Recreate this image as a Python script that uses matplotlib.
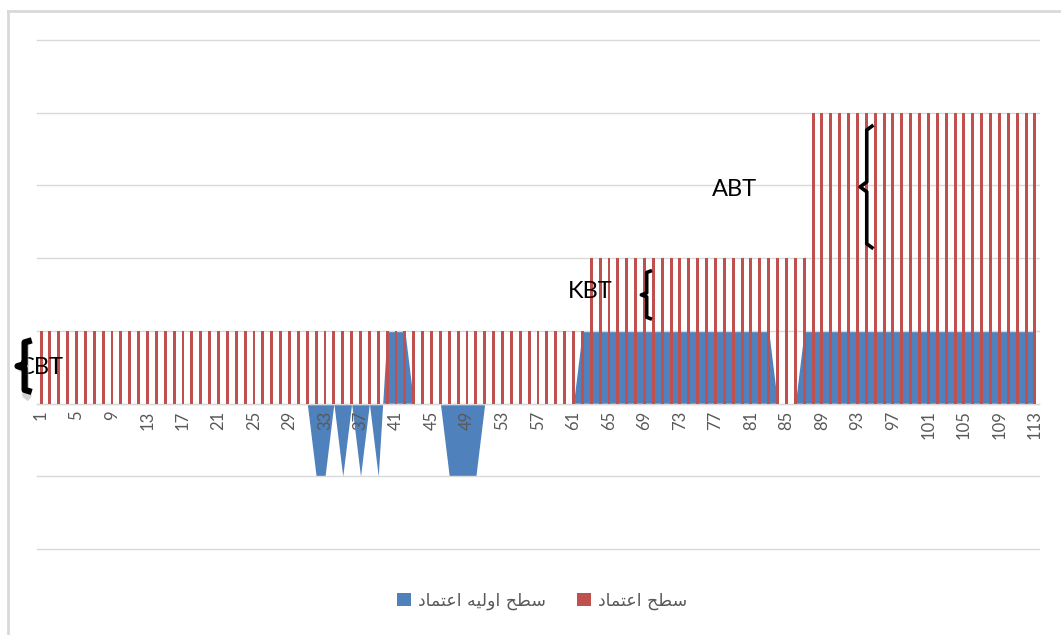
import matplotlib
matplotlib.use("Agg")
import matplotlib.pyplot as plt
from matplotlib.patches import Patch
from matplotlib.lines import Line2D

# categories 1..113
categories = list(range(1, 114))

# red bars: trust level
trust_level = [
    1, 1, 1, 1, 1, 1, 1, 1, 1, 1, 1, 1, 1, 1, 1, 1, 1, 1, 1, 1,
    1, 1, 1, 1, 1, 1, 1, 1, 1, 1, 1, 1, 1, 1, 1, 1, 1, 1, 1, 1,
    1, 1, 1, 1, 1, 1, 1, 1, 1, 1, 1, 1, 1, 1, 1, 1, 1, 1, 1, 1,
    1, 1, 2, 2, 2, 2, 2, 2, 2, 2, 2, 2, 2, 2, 2, 2, 2, 2, 2, 2,
    2, 2, 2, 2, 2, 2, 2, 4, 4, 4, 4, 4, 4, 4, 4, 4, 4, 4, 4, 4,
    4, 4, 4, 4, 4, 4, 4, 4, 4, 4, 4, 4, 4,
]

# blue area: initial trust level
initial_trust = [
    0, 0, 0, 0, 0, 0, 0, 0, 0, 0, 0, 0, 0, 0, 0, 0, 0, 0, 0, 0,
    0, 0, 0, 0, 0, 0, 0, 0, 0, 0, 0, -1, -1, 0, -1, 0, -1, 0, -1, 1,
    1, 1, 0, 0, 0, 0, -1, -1, -1, -1, 0, 0, 0, 0, 0, 0, 0, 0, 0, 0,
    0, 1, 1, 1, 1, 1, 1, 1, 1, 1, 1, 1, 1, 1, 1, 1, 1, 1, 1, 1,
    1, 1, 1, 0, 0, 0, 1, 1, 1, 1, 1, 1, 1, 1, 1, 1, 1, 1, 1, 1,
    1, 1, 1, 1, 1, 1, 1, 1, 1, 1, 1, 1, 1,
]

tick_labels = [1, 5, 9, 13, 17, 21, 25, 29, 33, 37, 41, 45, 49, 53, 57, 61,
               65, 69, 73, 77, 81, 85, 89, 93, 97, 101, 105, 109, 113]

# Arabic labels, pre-shaped and in visual order (matplotlib has no bidi)
label_trust = "\uFEA9\uFE8E\uFEE4\uFE98\uFECB\uFE8D \uFEA2\uFEC4\uFEB3"            # سطح اعتماد
label_initial = ("\uFEA9\uFE8E\uFEE4\uFE98\uFECB\uFE8D \uFEEA\uFEF4\uFEDF\uFEED\uFE8D "
                 "\uFEA2\uFEC4\uFEB3")                                            # سطح اولیه اعتماد

RED = "#C0504D"
BLUE = "#4F81BD"
GRID = "#D9D9D9"
GRAY_TXT = "#595959"

plt.rcParams['font.family'] = ['Lato', 'DejaVu Sans']

fig = plt.figure(figsize=(10.61, 6.35), dpi=100)
ax = fig.add_axes([0.0345, 0.1354, 0.9451, 0.8016])

ax.fill_between(categories, initial_trust, 0, color=BLUE, linewidth=0, zorder=2)
ax.bar(categories, trust_level, width=0.33, color=RED, linewidth=0, zorder=3)

# axis line sits at value 0; set it before the tick labels (it resets ticks)
for side in ['top', 'right', 'left']:
    ax.spines[side].set_visible(False)
ax.spines['bottom'].set_position(('data', 0))
ax.spines['bottom'].set_color(GRID)
ax.spines['bottom'].set_linewidth(1.0)
ax.set_axisbelow(False)

ax.set_xlim(0.5, 113.5)
ax.set_ylim(-2, 5)
ax.set_yticks(range(-2, 6))
ax.yaxis.grid(True, color=GRID, linewidth=1.0)
for gl in ax.get_ygridlines():
    gl.set_clip_on(False)
ax.tick_params(axis='y', length=0, labelleft=False)

ax.set_xticks(tick_labels)
ax.set_xticklabels([str(t) for t in tick_labels])
ax.tick_params(axis='x', length=0, pad=5, labelrotation=90, labelcolor=GRAY_TXT,
               labelsize=12)


def brace(x, y_top, y_bot, dx, lw):
    ym = (y_top + y_bot) / 2
    s = (y_top - y_bot) * 0.04
    xs = [x + dx, x, x, x - dx, x, x, x + dx]
    ys = [y_top, y_top - s, ym + s, ym, ym - s, y_bot + s, y_bot]
    ax.plot(xs, ys, color='black', linewidth=lw, solid_joinstyle='round',
            solid_capstyle='butt', clip_on=False, zorder=6)


# annotations
ax.text(79.2, 2.95, "ABT", fontsize=17, ha='center', va='center', zorder=5)
ax.text(62.9, 1.54, "KBT", fontsize=17, ha='center', va='center', zorder=5)
ax.text(1.0, 0.5, "CBT", fontsize=17, ha='center', va='center', zorder=5, clip_on=False)
brace(94.05, 3.83, 2.13, 0.75, 2.6)
brace(69.25, 1.83, 1.16, 0.6, 2.6)
# shadow for the CBT brace
ax.plot([-0.55, -0.75, -0.75, -1.3, -0.75, -0.75, -0.55],
        [0.84, 0.82, 0.52, 0.49, 0.46, 0.12, 0.10],
        color='#aaaaaa', linewidth=5, alpha=0.5, clip_on=False, zorder=5)
brace(-0.85, 0.87, 0.16, 0.8, 4.5)

# legend
handles = [Patch(facecolor=BLUE, edgecolor='none', label=label_initial),
           Patch(facecolor=RED, edgecolor='none', label=label_trust)]
leg = fig.legend(handles=handles, loc='center', bbox_to_anchor=(0.511, 0.0535),
                 ncol=2, frameon=False, handlelength=0.8, handleheight=0.8,
                 handletextpad=0.4, columnspacing=1.8,
                 prop={'family': 'DejaVu Sans', 'size': 12.5})
for t in leg.get_texts():
    t.set_color(GRAY_TXT)

# outer chart border (top and left visible)
fig.add_artist(Line2D([8 / 1061, 1.0], [1 - 11 / 635, 1 - 11 / 635], color=GRID,
                      linewidth=2.0, transform=fig.transFigure))
fig.add_artist(Line2D([8 / 1061, 8 / 1061], [0.0, 1 - 11 / 635], color=GRID,
                      linewidth=2.0, transform=fig.transFigure))

fig.savefig("out.png", dpi=100)
